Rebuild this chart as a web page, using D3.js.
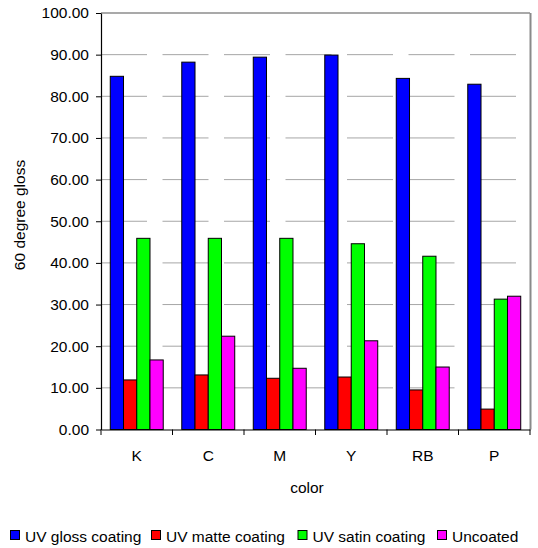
<!DOCTYPE html>
<html>
<head>
<meta charset="utf-8">
<script src="https://cdn.jsdelivr.net/npm/d3@7"></script>
<style>
  html, body { margin: 0; padding: 0; background: #fff; }
  svg { display: block; font-family: Arial, "Liberation Sans", sans-serif; }
</style>
</head>
<body>
<svg id="chart" width="538" height="548"></svg>
<script>
// 60 degree gloss by ink color and coating type
const categories = ["K", "C", "M", "Y", "RB", "P"];
const seriesNames = ["UV gloss coating", "UV matte coating", "UV satin coating", "Uncoated"];
const seriesColors = ["#0000ff", "#ff0000", "#00ff00", "#ff00ff"];
const uvGloss  = [84.8, 88.2, 89.4, 89.9, 84.3, 82.9];
const uvMatte  = [11.9, 13.1, 12.3, 12.6, 9.5, 4.9];
const uvSatin  = [45.9, 45.9, 45.9, 44.6, 41.6, 31.3];
const uncoated = [16.7, 22.4, 14.7, 21.3, 15.0, 32.0];
const yTicks = [0, 10, 20, 30, 40, 50, 60, 70, 80, 90, 100];

const seriesValues = [uvGloss, uvMatte, uvSatin, uncoated];
const FONT = 15.5;

const svg = d3.select("#chart");
const plot = { left: 101, right: 530, top: 13, bottom: 429.5 };

const x = d3.scaleBand().domain(categories).range([plot.left, plot.right]).paddingInner(0).paddingOuter(0);
const inner = d3.scaleBand().domain(seriesNames).range([0, x.bandwidth()]).paddingOuter(0.7).paddingInner(0);
const y = d3.scaleLinear().domain([0, 100]).range([plot.bottom, plot.top]);

// plot frame: dark top edge, grey right edge
svg.append("line")
  .attr("x1", plot.left).attr("x2", plot.right)
  .attr("y1", plot.top).attr("y2", plot.top)
  .attr("stroke", "#555").attr("stroke-width", 1.2);
svg.append("line")
  .attr("x1", plot.right + 0.5).attr("x2", plot.right + 0.5)
  .attr("y1", plot.top).attr("y2", plot.bottom)
  .attr("stroke", "#8a8a8a").attr("stroke-width", 2);

// dashed horizontal gridlines
svg.append("g")
  .selectAll("line")
  .data(yTicks.filter(d => d > 0 && d < 100))
  .join("line")
  .attr("x1", plot.left).attr("x2", plot.right)
  .attr("y1", d => y(d)).attr("y2", d => y(d))
  .attr("stroke", "#a6a6a6").attr("stroke-width", 1)
  .attr("stroke-dasharray", "46,15.5");

// bars
const rows = categories.map((c, i) => ({ cat: c, vals: seriesNames.map((s, j) => ({ s, j, v: seriesValues[j][i] })) }));
const groups = svg.append("g").selectAll("g")
  .data(rows).join("g")
  .attr("transform", d => `translate(${x(d.cat)},0)`);

groups.selectAll("rect.bar")
  .data(d => d.vals).join("rect")
  .attr("class", "bar")
  .attr("x", d => inner(d.s))
  .attr("y", d => y(d.v))
  .attr("width", inner.bandwidth())
  .attr("height", d => plot.bottom - y(d.v))
  .attr("fill", d => seriesColors[d.j])
  .attr("stroke", "#000").attr("stroke-width", 1);

// y axis
const yAxis = svg.append("g")
  .attr("transform", `translate(${plot.left},0)`)
  .call(d3.axisLeft(y).tickValues(yTicks).tickFormat(d3.format(".2f")).tickSizeInner(5).tickSizeOuter(0).tickPadding(7));
yAxis.select(".domain").attr("stroke", "#000").attr("stroke-width", 1.2);
yAxis.selectAll(".tick line").attr("stroke", "#000");
yAxis.selectAll("text").attr("font-size", FONT).attr("fill", "#000").attr("font-family", "Arial, 'Liberation Sans', sans-serif");

// x axis with ticks at category boundaries
const xAxis = svg.append("g")
  .attr("transform", `translate(0,${plot.bottom})`)
  .call(d3.axisBottom(x).tickSize(0).tickPadding(20));
xAxis.select(".domain").attr("stroke", "#000").attr("stroke-width", 1.2);
xAxis.selectAll("text").attr("font-size", FONT).attr("fill", "#000").attr("font-family", "Arial, 'Liberation Sans', sans-serif");
xAxis.selectAll("line.boundary")
  .data(categories.map(c => x(c)).concat([plot.right]))
  .join("line")
  .attr("class", "boundary")
  .attr("x1", d => d).attr("x2", d => d)
  .attr("y1", 0).attr("y2", 5.5)
  .attr("stroke", "#000");

// axis titles
svg.append("text")
  .attr("x", 307).attr("y", 493)
  .attr("text-anchor", "middle").attr("font-size", FONT)
  .text("color");

svg.append("text")
  .attr("transform", `translate(24.5,215) rotate(-90)`)
  .attr("text-anchor", "middle").attr("font-size", FONT)
  .text("60 degree gloss");

// legend
const legendX = [10, 151, 297.5, 437];
const legend = svg.append("g").selectAll("g")
  .data(seriesNames).join("g")
  .attr("transform", (d, i) => `translate(${legendX[i]},530)`);
legend.append("rect")
  .attr("x", 0.5).attr("y", 0.5)
  .attr("width", 9).attr("height", 9)
  .attr("fill", (d, i) => seriesColors[i])
  .attr("stroke", "#000").attr("stroke-width", 1);
legend.append("text")
  .attr("x", 15).attr("y", 11.5)
  .attr("font-size", FONT)
  .text(d => d);
</script>
</body>
</html>
